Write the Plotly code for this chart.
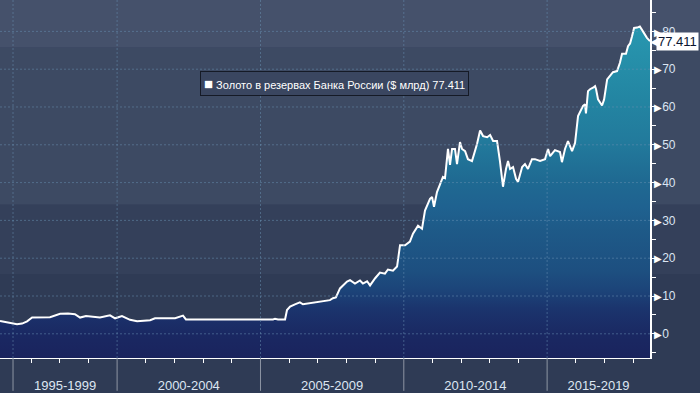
import plotly.graph_objects as go
import pandas as pd

# ---------------- data ----------------
DATES = [
    "1995-12-01", "1996-05-15", "1996-07-05", "1996-09-08", "1996-11-10", "1997-01-13",
    "1997-08-29", "1998-01-05", "1998-04-16", "1998-07-13", "1998-09-16", "1998-12-01",
    "1999-05-27", "1999-10-03", "1999-12-06", "2000-03-03", "2000-06-14", "2000-09-12",
    "2001-02-25", "2001-04-28", "2002-01-09", "2002-04-20", "2002-05-27", "2005-06-10",
    "2005-07-05", "2005-08-12", "2005-11-10", "2005-12-05", "2006-01-13", "2006-03-16",
    "2006-05-18", "2006-06-26", "2006-09-24", "2007-01-30", "2007-06-05", "2007-07-13",
    "2007-08-20", "2007-10-11", "2008-01-09", "2008-02-16", "2008-04-19", "2008-06-22",
    "2008-07-29", "2008-09-20", "2008-10-28", "2009-01-01", "2009-03-03", "2009-05-06",
    "2009-06-13", "2009-08-16", "2009-10-07", "2009-11-14", "2010-01-17", "2010-03-20",
    "2010-04-28", "2010-07-01", "2010-08-21", "2010-09-28", "2010-12-01", "2010-12-27",
    "2011-01-21", "2011-02-28", "2011-04-07", "2011-05-15", "2011-06-10", "2011-07-18",
    "2011-08-13", "2011-09-08", "2011-10-15", "2011-11-10", "2011-12-18", "2012-01-13",
    "2012-02-21", "2012-03-28", "2012-05-19", "2012-07-22", "2012-08-30", "2012-10-07",
    "2012-11-28", "2013-01-05", "2013-02-12", "2013-04-03", "2013-05-10", "2013-06-18",
    "2013-07-26", "2013-08-21", "2013-09-16", "2013-10-24", "2013-12-01", "2013-12-27",
    "2014-02-17", "2014-03-25", "2014-05-02", "2014-06-22", "2014-07-30", "2014-10-03",
    "2014-12-06", "2015-01-13", "2015-02-08", "2015-04-11", "2015-06-14", "2015-07-09",
    "2015-08-17", "2015-09-24", "2015-11-15", "2015-12-23", "2016-01-30", "2016-04-03",
    "2016-04-28", "2016-05-10", "2016-06-05", "2016-07-01", "2016-08-08", "2016-09-03",
    "2016-09-16", "2016-10-11", "2016-12-01", "2016-12-27", "2017-02-04", "2017-03-12",
    "2017-04-19", "2017-06-10", "2017-07-17", "2017-08-13", "2017-10-02", "2017-10-28",
    "2017-11-23", "2017-12-18", "2018-01-13", "2018-02-21", "2018-03-28", "2018-05-06",
    "2018-06-26", "2018-08-04",
]
GOLD = [
    3.4, 2.8, 2.5, 2.7, 3.3, 4.3,
    4.4, 5.3, 5.4, 5.2, 4.3, 4.7,
    4.3, 4.9, 4.1, 4.7, 3.7, 3.3,
    3.6, 4.1, 4.1, 4.8, 3.8, 3.8,
    4.0, 3.8, 3.8, 6.3, 7.2, 7.8,
    8.3, 7.8, 8.1, 8.6, 8.9, 9.4,
    9.6, 12.0, 13.8, 14.2, 13.3, 14.1,
    13.3, 13.9, 12.8, 14.7, 16.2, 15.9,
    17.0, 16.7, 17.8, 23.4, 23.4, 24.4,
    26.5, 28.6, 27.8, 32.6, 35.7, 36.2,
    33.6, 37.5, 39.7, 41.5, 41.2, 48.9,
    44.7, 48.9, 48.9, 44.9, 50.7, 48.9,
    48.3, 46.2, 45.7, 50.2, 53.8, 52.3,
    52.0, 52.6, 51.0, 51.0, 45.7, 38.9,
    43.6, 45.7, 43.6, 44.1, 41.0, 40.2,
    44.1, 44.9, 43.6, 46.2, 46.2, 45.7,
    46.2, 48.9, 47.0, 48.6, 48.1, 45.4,
    48.9, 51.0, 48.3, 50.5, 57.6, 60.3,
    60.7, 58.3, 64.2, 64.7, 65.1, 65.5,
    64.7, 62.0, 60.4, 62.0, 67.3, 68.2,
    69.2, 69.5, 71.7, 74.1, 74.1, 76.1,
    76.8, 78.7, 80.9, 81.0, 81.3, 80.0,
    78.3, 77.411,
]
SERIES_NAME = "Золото в резервах Банка России ($ млрд)"
LAST_VALUE = GOLD[-1]

X_RANGE = ["1995-12-01", "2018-08-04"]
Y_RANGE = [-6.4, 88.3]
Y_TICKS = [0, 10, 20, 30, 40, 50, 60, 70, 80]
Y_TICK_LABELS = ["0", "10", "20", "30", "40", "50", "60", "70", "80"]
PERIOD_BOUNDS = ["1996-05-15", "2000-01-01", "2005-01-01", "2010-01-01", "2015-01-01"]
PERIOD_LABELS = ["1995-1999", "2000-2004", "2005-2009", "2010-2014", "2015-2019"]

# ---------------- derived axis helpers ----------------
edges = pd.to_datetime(PERIOD_BOUNDS + [X_RANGE[1]])
label_pos = [(edges[i] + (edges[i + 1] - edges[i]) / 2).strftime("%Y-%m-%d")
             for i in range(len(PERIOD_LABELS))]
bound_years = {pd.Timestamp(b).year for b in PERIOD_BOUNDS[1:]}
year_ticks = [f"{y}-01-01" for y in range(1997, 2019) if y not in bound_years]

FONT = "Liberation Sans, Arial, sans-serif"

fig = go.Figure()
fig.add_trace(go.Scatter(
    x=X_RANGE, y=[Y_RANGE[0], Y_RANGE[0]], mode="lines",
    line=dict(width=0, color="rgba(0,0,0,0)"), hoverinfo="skip", showlegend=False))
fig.add_trace(go.Scatter(
    x=DATES, y=GOLD, mode="lines", name=SERIES_NAME,
    line=dict(color="white", width=2),
    fill="tonexty",
    fillgradient=dict(
        type="vertical", start=Y_RANGE[0], stop=82,
        colorscale=[
            [0.0, "#1a235d"], [0.072, "#1a2862"], [0.152, "#1b346d"],
            [0.208, "#1c4479"], [0.264, "#1d4f80"], [0.389, "#1e5a88"],
            [0.457, "#1f6290"], [0.536, "#1f6a92"], [0.649, "#227a9c"],
            [0.774, "#2385a2"], [1.0, "#2898b0"],
        ]),
    showlegend=False))

shapes = []
# background bands across whole canvas
bands = [(1.0 - 48 / 360, 1.01, "#45516b"),
         (1.0 - 206 / 360, 1.0 - 48 / 360, "#3d4a63"),
         (1.0 - 276 / 360, 1.0 - 206 / 360, "#34405a"),
         (-0.1, 1.0 - 276 / 360, "#2f3b55")]
for y0, y1, c in bands:
    shapes.append(dict(type="rect", xref="paper", yref="paper", x0=-0.01, x1=1.1,
                       y0=y0, y1=y1, fillcolor=c, line=dict(width=0), layer="below"))
grid_col = "rgba(105,145,180,0.5)"
for v in Y_TICKS:
    shapes.append(dict(type="line", xref="paper", yref="y", x0=0, x1=1, y0=v, y1=v,
                       line=dict(color=grid_col, width=1, dash="2px,2px"), layer="above"))
for b in PERIOD_BOUNDS:
    shapes.append(dict(type="line", xref="x", yref="paper", x0=b, x1=b, y0=0, y1=1,
                       line=dict(color=grid_col, width=1, dash="2px,2px"), layer="above"))
    shapes.append(dict(type="line", xref="x", yref="paper", x0=b, x1=b, y0=-33 / 360, y1=0,
                       line=dict(color="#8d95a3", width=1), layer="above"))

fig.update_layout(
    width=700, height=393,
    margin=dict(l=0, r=50, t=0, b=33),
    paper_bgcolor="#2f3b55", plot_bgcolor="rgba(0,0,0,0)",
    shapes=shapes,
    font=dict(family=FONT, color="#dbe5f2"),
    xaxis=dict(
        type="date", range=X_RANGE, tickvals=label_pos, ticktext=PERIOD_LABELS,
        ticks="outside", ticklen=15, tickcolor="rgba(0,0,0,0)",
        tickfont=dict(size=13, color="#dde6f2", family=FONT),
        showgrid=False, zeroline=False,
        showline=True, linecolor="white", linewidth=1,
        minor=dict(tickvals=year_ticks, ticks="outside", ticklen=4,
                   tickcolor="white", tickwidth=1, showgrid=False),
        fixedrange=True,
    ),
    yaxis=dict(
        side="right", range=Y_RANGE, tickvals=Y_TICKS,
        ticktext=[f"<span style='font-size:10px;color:white'>▶</span>{t}" for t in Y_TICK_LABELS],
        ticks="", ticklabelstandoff=0,
        tickfont=dict(size=12, color="#dbe5f2", family=FONT),
        showgrid=False, zeroline=False,
        showline=True, linecolor="white", linewidth=1.5,
        minor=dict(dtick=5, tick0=0, ticks="outside", ticklen=4,
                   tickcolor="white", tickwidth=1, showgrid=False),
        fixedrange=True,
    ),
    annotations=[
        dict(xref="paper", yref="paper", x=335 / 650, y=1 - 71.5 / 360,
             text=f"<span style='font-size:15px'>■</span> {SERIES_NAME} {LAST_VALUE}",
             showarrow=False, font=dict(size=11, color="white", family=FONT),
             bgcolor="#3a4660", bordercolor="#151a26", borderwidth=1, borderpad=3),
        dict(xref="paper", yref="y", x=1, y=LAST_VALUE, xanchor="left", xshift=-1,
             text="◀", showarrow=False, font=dict(size=10, color="white"), borderpad=0),
        dict(xref="paper", yref="y", x=1, y=LAST_VALUE, xanchor="left", xshift=6,
             text=f"{LAST_VALUE}", showarrow=False,
             font=dict(size=13, color="#0b1530", family=FONT),
             bgcolor="white", borderpad=1),
    ],
)

fig.write_html("out.html")
